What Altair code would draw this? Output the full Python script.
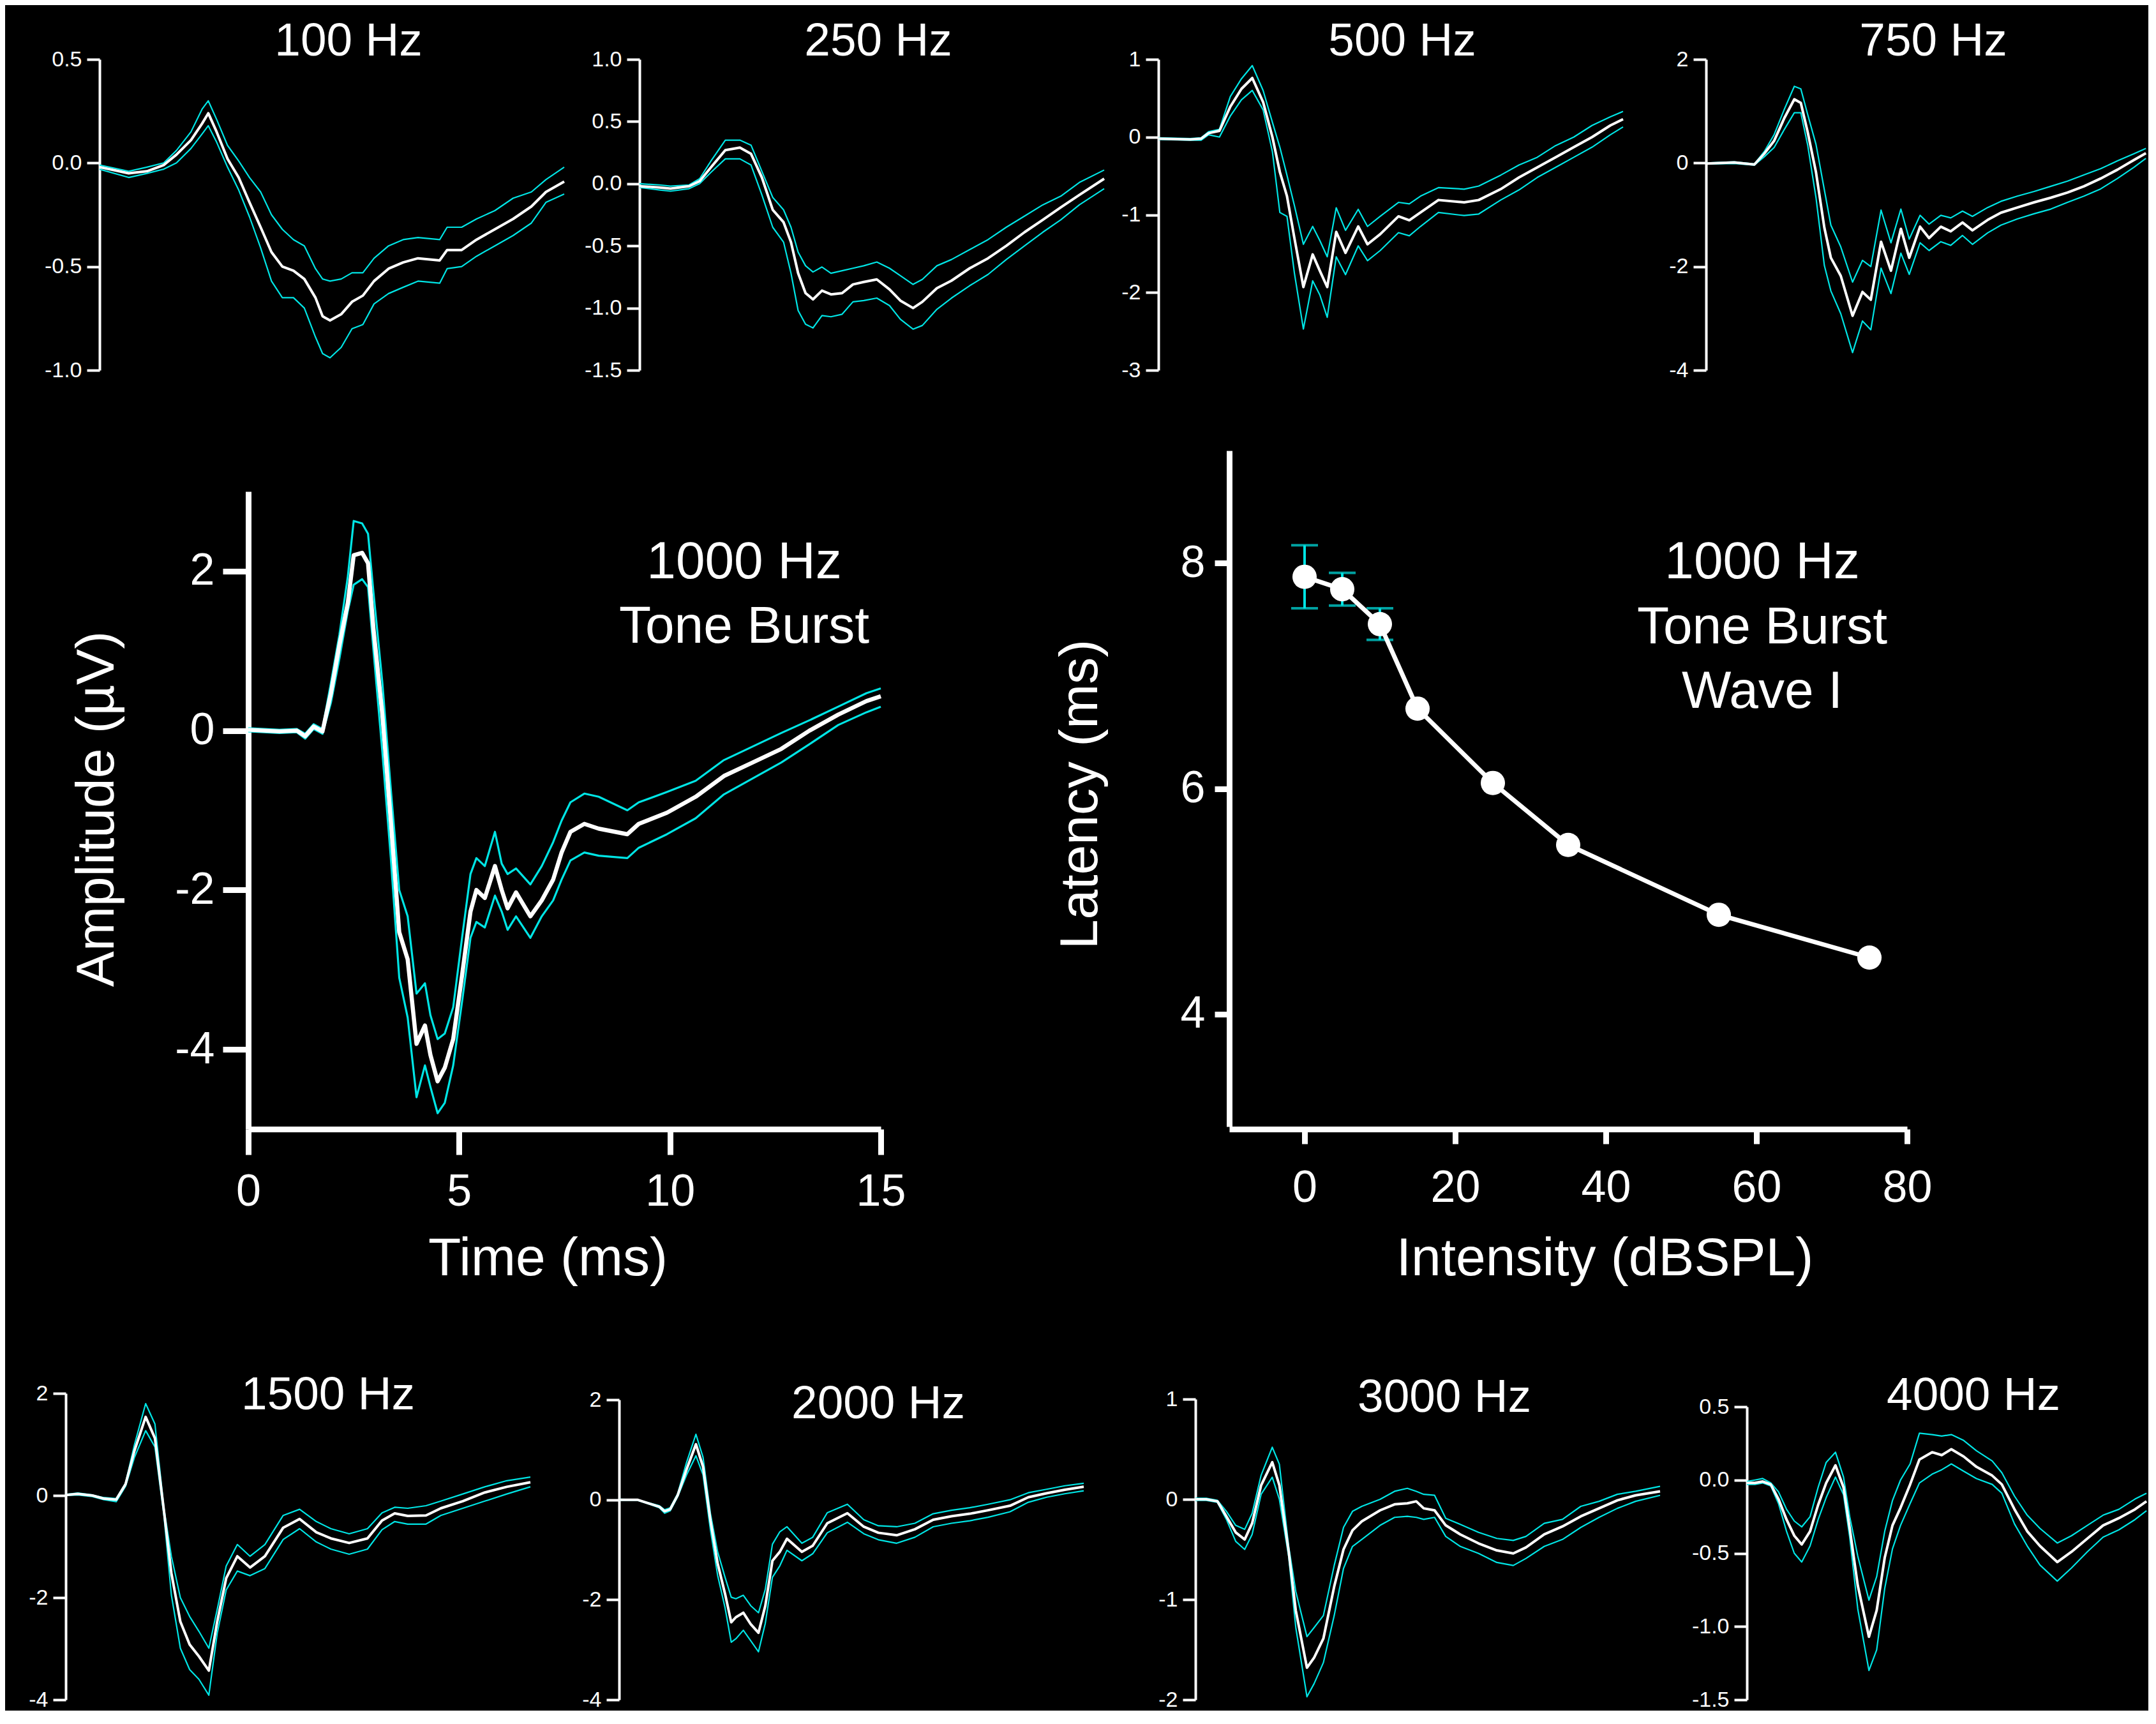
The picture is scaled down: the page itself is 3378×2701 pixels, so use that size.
import altair as alt
import pandas as pd

FONT = "Liberation Sans"
WHITE = "#ffffff"
CYAN = "#00e5e5"
MINUS_FIX = "replace(format(datum.value, '{fmt}'), '\u2212', '-')"

# ---------------- data: ABR traces (mean, upper and lower bound) ----------------
t100 = [0, 0.94, 1.53, 2.07, 2.48, 2.95, 3.31, 3.51, 3.78, 4.13, 4.49, 4.84, 5.2, 5.55, 5.9, 6.26, 6.61, 6.97, 7.2, 7.44, 7.8, 8.15, 8.5, 8.86, 9.33, 9.8, 10.28, 10.98, 11.22, 11.69, 12.17, 12.76, 13.35, 13.94, 14.41, 15]
m100 = [-0.02, -0.05, -0.04, -0.01, 0.04, 0.11, 0.19, 0.24, 0.15, 0.02, -0.07, -0.19, -0.31, -0.43, -0.50, -0.52, -0.56, -0.65, -0.74, -0.76, -0.73, -0.67, -0.64, -0.57, -0.51, -0.48, -0.46, -0.47, -0.42, -0.42, -0.37, -0.32, -0.27, -0.21, -0.14, -0.09]
u100 = [-0.01, -0.04, -0.02, 0.0, 0.06, 0.15, 0.26, 0.30, 0.21, 0.085, 0.01, -0.07, -0.14, -0.25, -0.32, -0.37, -0.40, -0.51, -0.56, -0.57, -0.56, -0.53, -0.53, -0.46, -0.40, -0.37, -0.36, -0.37, -0.31, -0.31, -0.27, -0.23, -0.17, -0.14, -0.08, -0.02]
l100 = [-0.03, -0.07, -0.05, -0.03, 0.0, 0.07, 0.14, 0.18, 0.10, -0.02, -0.13, -0.26, -0.41, -0.57, -0.65, -0.65, -0.70, -0.84, -0.92, -0.94, -0.89, -0.80, -0.78, -0.68, -0.63, -0.60, -0.57, -0.58, -0.51, -0.50, -0.45, -0.40, -0.35, -0.29, -0.19, -0.15]

t250 = [0, 0.65, 1.0, 1.6, 1.94, 2.3, 2.77, 3.24, 3.6, 3.95, 4.3, 4.65, 4.89, 5.12, 5.36, 5.6, 5.89, 6.18, 6.54, 6.89, 7.24, 7.66, 8.07, 8.42, 8.83, 9.13, 9.6, 10.07, 10.66, 11.25, 11.84, 12.43, 13.02, 13.6, 14.2, 15]
m250 = [-0.02, -0.03, -0.04, -0.02, 0.02, 0.13, 0.27, 0.29, 0.24, 0.05, -0.21, -0.31, -0.47, -0.72, -0.88, -0.93, -0.86, -0.89, -0.88, -0.81, -0.79, -0.77, -0.85, -0.94, -1.00, -0.95, -0.84, -0.78, -0.68, -0.60, -0.50, -0.39, -0.29, -0.19, -0.09, 0.04]
u250 = [0.0, -0.01, -0.02, -0.01, 0.04, 0.18, 0.35, 0.35, 0.31, 0.10, -0.11, -0.21, -0.35, -0.55, -0.66, -0.71, -0.67, -0.72, -0.70, -0.68, -0.66, -0.63, -0.68, -0.74, -0.81, -0.77, -0.66, -0.61, -0.53, -0.45, -0.35, -0.26, -0.17, -0.10, 0.01, 0.11]
l250 = [-0.03, -0.05, -0.06, -0.04, 0.0, 0.09, 0.20, 0.20, 0.15, -0.09, -0.35, -0.47, -0.72, -1.02, -1.13, -1.16, -1.06, -1.07, -1.05, -0.95, -0.94, -0.92, -0.98, -1.09, -1.17, -1.14, -1.01, -0.92, -0.82, -0.73, -0.61, -0.50, -0.39, -0.29, -0.17, -0.04]

t500 = [0, 1.03, 1.38, 1.62, 1.97, 2.32, 2.68, 3.03, 3.38, 3.68, 3.92, 4.15, 4.39, 4.68, 4.98, 5.21, 5.45, 5.74, 6.04, 6.45, 6.75, 7.16, 7.75, 8.1, 8.46, 9.04, 9.87, 10.34, 11.05, 11.64, 12.23, 12.82, 13.41, 14.0, 14.59, 15]
m500 = [-0.02, -0.03, -0.02, 0.05, 0.08, 0.39, 0.62, 0.76, 0.45, 0.0, -0.45, -0.76, -1.30, -1.93, -1.51, -1.72, -1.93, -1.22, -1.49, -1.15, -1.38, -1.25, -1.02, -1.07, -0.97, -0.81, -0.84, -0.81, -0.67, -0.52, -0.39, -0.26, -0.13, 0.0, 0.15, 0.23]
u500 = [-0.01, -0.02, -0.01, 0.07, 0.10, 0.52, 0.75, 0.92, 0.60, 0.19, -0.13, -0.49, -0.88, -1.38, -1.15, -1.33, -1.54, -0.91, -1.20, -0.93, -1.15, -1.02, -0.84, -0.86, -0.76, -0.65, -0.67, -0.63, -0.49, -0.36, -0.26, -0.11, 0.0, 0.15, 0.26, 0.33]
l500 = [-0.03, -0.04, -0.04, 0.03, 0.0, 0.27, 0.48, 0.60, 0.35, -0.19, -0.97, -1.02, -1.75, -2.47, -1.85, -2.03, -2.32, -1.54, -1.77, -1.40, -1.59, -1.46, -1.23, -1.27, -1.15, -0.97, -1.01, -0.99, -0.81, -0.68, -0.52, -0.39, -0.26, -0.13, 0.03, 0.13]

t750 = [0, 0.91, 1.56, 1.88, 2.2, 2.53, 2.85, 3.06, 3.28, 3.55, 3.82, 4.03, 4.35, 4.73, 5.05, 5.32, 5.65, 5.97, 6.29, 6.56, 6.91, 7.2, 7.58, 7.9, 8.28, 8.6, 9.09, 9.52, 10.05, 10.59, 11.13, 11.67, 12.2, 12.74, 13.28, 13.82, 14.2]
m750 = [-0.01, 0.01, -0.03, 0.18, 0.43, 0.87, 1.23, 1.16, 0.60, -0.18, -1.25, -1.83, -2.18, -2.95, -2.49, -2.64, -1.52, -2.08, -1.27, -1.83, -1.23, -1.45, -1.23, -1.32, -1.15, -1.30, -1.10, -0.96, -0.86, -0.76, -0.67, -0.57, -0.45, -0.30, -0.13, 0.06, 0.19]
u750 = [0.0, 0.02, -0.02, 0.22, 0.55, 1.04, 1.48, 1.43, 0.94, 0.36, -0.52, -1.20, -1.62, -2.30, -1.88, -2.0, -0.91, -1.54, -0.89, -1.47, -1.01, -1.18, -1.01, -1.06, -0.93, -1.03, -0.86, -0.74, -0.64, -0.55, -0.45, -0.35, -0.23, -0.11, 0.04, 0.18, 0.28]
l750 = [-0.02, -0.01, -0.04, 0.12, 0.30, 0.65, 0.97, 0.97, 0.35, -0.67, -1.98, -2.47, -2.91, -3.66, -3.05, -3.22, -2.03, -2.52, -1.74, -2.15, -1.54, -1.69, -1.52, -1.59, -1.40, -1.57, -1.35, -1.20, -1.08, -0.98, -0.89, -0.76, -0.64, -0.50, -0.30, -0.08, 0.09]

t1000 = [0, 0.74, 1.15, 1.35, 1.55, 1.76, 1.96, 2.16, 2.36, 2.5, 2.7, 2.84, 2.97, 3.18, 3.38, 3.58, 3.78, 3.99, 4.19, 4.32, 4.49, 4.66, 4.86, 5.07, 5.27, 5.41, 5.61, 5.85, 6.01, 6.15, 6.35, 6.69, 6.96, 7.23, 7.43, 7.64, 7.97, 8.31, 8.99, 9.26, 9.93, 10.61, 11.28, 11.96, 12.64, 13.31, 13.99, 14.66, 15]
m1000 = [0.01, -0.01, 0.0, -0.07, 0.05, -0.01, 0.47, 1.07, 1.60, 2.20, 2.23, 2.10, 1.27, 0.20, -1.13, -2.53, -2.87, -3.93, -3.70, -4.07, -4.40, -4.23, -3.87, -3.07, -2.27, -2.00, -2.10, -1.70, -2.00, -2.23, -2.03, -2.33, -2.13, -1.87, -1.53, -1.27, -1.17, -1.23, -1.30, -1.17, -1.03, -0.83, -0.57, -0.40, -0.23, 0.0, 0.20, 0.37, 0.43]
u1000 = [0.03, 0.01, 0.02, -0.04, 0.08, 0.02, 0.60, 1.20, 1.93, 2.63, 2.60, 2.47, 1.73, 0.60, -0.73, -2.00, -2.33, -3.30, -3.17, -3.57, -3.87, -3.80, -3.47, -2.60, -1.80, -1.60, -1.70, -1.27, -1.67, -1.80, -1.73, -1.93, -1.70, -1.40, -1.13, -0.90, -0.79, -0.83, -1.00, -0.90, -0.77, -0.63, -0.37, -0.20, -0.03, 0.13, 0.30, 0.47, 0.53]
l1000 = [-0.01, -0.03, -0.02, -0.10, 0.02, -0.04, 0.35, 0.90, 1.50, 1.83, 1.90, 1.80, 1.00, -0.27, -1.60, -3.10, -3.60, -4.60, -4.20, -4.47, -4.80, -4.67, -4.20, -3.40, -2.60, -2.40, -2.47, -2.07, -2.27, -2.50, -2.33, -2.60, -2.33, -2.13, -1.87, -1.63, -1.53, -1.57, -1.60, -1.47, -1.30, -1.10, -0.80, -0.60, -0.40, -0.17, 0.07, 0.23, 0.30]

t1500 = [0, 0.39, 0.86, 1.22, 1.63, 1.93, 2.22, 2.58, 2.88, 3.17, 3.41, 3.7, 4.0, 4.3, 4.62, 4.89, 5.18, 5.54, 5.95, 6.43, 7.02, 7.55, 8.09, 8.56, 9.15, 9.74, 10.21, 10.62, 11.04, 11.63, 12.11, 12.82, 13.53, 14.24, 15]
m1500 = [0.01, 0.03, 0.0, -0.06, -0.08, 0.22, 0.88, 1.54, 1.12, -0.30, -1.52, -2.47, -2.92, -3.15, -3.43, -2.47, -1.62, -1.19, -1.41, -1.19, -0.63, -0.46, -0.72, -0.84, -0.93, -0.84, -0.49, -0.35, -0.40, -0.39, -0.25, -0.11, 0.06, 0.17, 0.26]
u1500 = [0.02, 0.05, 0.01, -0.04, -0.06, 0.24, 1.0, 1.80, 1.40, -0.25, -1.19, -2.0, -2.37, -2.66, -2.99, -2.23, -1.38, -0.96, -1.19, -0.96, -0.39, -0.27, -0.51, -0.65, -0.75, -0.65, -0.34, -0.23, -0.25, -0.20, -0.11, 0.03, 0.17, 0.29, 0.36]
l1500 = [0.0, 0.01, -0.02, -0.08, -0.12, 0.18, 0.75, 1.27, 0.95, -0.39, -1.95, -2.99, -3.41, -3.60, -3.91, -2.70, -1.85, -1.48, -1.57, -1.43, -0.86, -0.65, -0.91, -1.05, -1.15, -1.05, -0.67, -0.51, -0.56, -0.56, -0.39, -0.25, -0.11, 0.03, 0.17]

t2000 = [0, 0.59, 0.94, 1.3, 1.47, 1.65, 1.89, 2.18, 2.48, 2.71, 2.95, 3.18, 3.42, 3.62, 3.77, 4.01, 4.25, 4.5, 4.72, 4.95, 5.19, 5.42, 5.9, 6.25, 6.72, 7.37, 7.9, 8.37, 8.96, 9.55, 10.14, 10.73, 11.32, 11.91, 12.62, 13.21, 13.8, 14.39, 15]
m2000 = [0.0, 0.0, -0.07, -0.14, -0.23, -0.19, 0.09, 0.61, 1.11, 0.66, -0.42, -1.27, -1.88, -2.45, -2.35, -2.26, -2.49, -2.66, -2.12, -1.22, -1.04, -0.78, -1.04, -0.92, -0.47, -0.27, -0.54, -0.66, -0.71, -0.59, -0.40, -0.33, -0.28, -0.21, -0.12, 0.05, 0.13, 0.20, 0.26]
u2000 = [0.01, 0.0, -0.06, -0.12, -0.20, -0.16, 0.12, 0.75, 1.31, 0.85, -0.28, -1.04, -1.55, -1.95, -1.98, -1.91, -2.12, -2.26, -1.79, -0.89, -0.64, -0.54, -0.87, -0.75, -0.26, -0.09, -0.40, -0.52, -0.54, -0.47, -0.28, -0.21, -0.16, -0.09, 0.0, 0.14, 0.21, 0.28, 0.33]
l2000 = [-0.01, -0.01, -0.08, -0.16, -0.27, -0.22, 0.06, 0.50, 0.88, 0.50, -0.61, -1.51, -2.16, -2.85, -2.78, -2.61, -2.82, -3.04, -2.47, -1.55, -1.32, -1.01, -1.22, -1.08, -0.66, -0.45, -0.68, -0.80, -0.87, -0.75, -0.54, -0.47, -0.42, -0.35, -0.24, -0.05, 0.05, 0.12, 0.18]

t3000 = [0, 0.35, 0.71, 1.0, 1.3, 1.59, 1.83, 2.12, 2.48, 2.71, 3.01, 3.24, 3.6, 3.83, 4.13, 4.48, 4.78, 5.07, 5.37, 5.96, 6.43, 6.84, 7.13, 7.37, 7.72, 8.08, 8.55, 9.14, 9.73, 10.26, 10.67, 11.26, 11.85, 12.44, 13.03, 13.62, 14.21, 15]
m3000 = [0.0, 0.0, -0.02, -0.17, -0.33, -0.40, -0.24, 0.14, 0.37, 0.14, -0.52, -1.11, -1.68, -1.58, -1.39, -0.87, -0.50, -0.31, -0.22, -0.11, -0.05, -0.04, -0.02, -0.09, -0.11, -0.26, -0.35, -0.44, -0.51, -0.54, -0.48, -0.35, -0.27, -0.17, -0.09, -0.01, 0.04, 0.08]
u3000 = [0.01, 0.01, -0.01, -0.12, -0.26, -0.30, -0.14, 0.24, 0.52, 0.35, -0.47, -0.92, -1.37, -1.28, -1.16, -0.66, -0.28, -0.12, -0.07, 0.0, 0.08, 0.11, 0.08, 0.05, 0.04, -0.19, -0.25, -0.33, -0.39, -0.41, -0.37, -0.24, -0.20, -0.07, -0.02, 0.05, 0.08, 0.13]
l3000 = [-0.01, -0.01, -0.03, -0.20, -0.42, -0.50, -0.35, 0.05, 0.22, 0.0, -0.57, -1.28, -1.97, -1.84, -1.63, -1.16, -0.69, -0.47, -0.40, -0.26, -0.18, -0.17, -0.18, -0.20, -0.18, -0.37, -0.47, -0.54, -0.63, -0.66, -0.59, -0.47, -0.40, -0.28, -0.18, -0.09, -0.02, 0.04]

t4000 = [0, 0.26, 0.51, 0.77, 1.02, 1.28, 1.53, 1.77, 2.04, 2.3, 2.56, 2.86, 3.12, 3.32, 3.58, 3.94, 4.19, 4.45, 4.7, 4.96, 5.27, 5.57, 5.98, 6.29, 6.6, 7.0, 7.41, 7.92, 8.23, 8.64, 9.05, 9.46, 10.02, 10.48, 10.99, 11.5, 12.01, 12.53, 12.9]
m4000 = [-0.02, -0.02, -0.01, -0.03, -0.13, -0.27, -0.38, -0.44, -0.35, -0.17, -0.02, 0.10, -0.05, -0.33, -0.72, -1.07, -0.89, -0.53, -0.31, -0.19, -0.03, 0.14, 0.19, 0.17, 0.21, 0.16, 0.09, 0.03, -0.03, -0.20, -0.35, -0.45, -0.56, -0.49, -0.40, -0.31, -0.26, -0.20, -0.145]
u4000 = [-0.01, 0.0, 0.01, -0.02, -0.08, -0.20, -0.28, -0.32, -0.25, -0.05, 0.12, 0.19, 0.02, -0.25, -0.52, -0.82, -0.66, -0.35, -0.14, 0.0, 0.11, 0.32, 0.31, 0.30, 0.31, 0.27, 0.20, 0.13, 0.05, -0.11, -0.24, -0.33, -0.43, -0.38, -0.31, -0.24, -0.20, -0.13, -0.09]
l4000 = [-0.03, -0.03, -0.02, -0.04, -0.16, -0.35, -0.50, -0.56, -0.45, -0.27, -0.12, 0.02, -0.10, -0.39, -0.88, -1.30, -1.16, -0.74, -0.47, -0.31, -0.16, -0.02, 0.04, 0.07, 0.11, 0.06, 0.01, -0.03, -0.09, -0.30, -0.45, -0.58, -0.69, -0.60, -0.49, -0.39, -0.34, -0.27, -0.21]

# ---------------- data: wave I latency vs intensity ----------------
intensity = [0, 5, 10, 15, 25, 35, 55, 75]
latency = [7.88, 7.77, 7.46, 6.71, 6.05, 5.50, 4.88, 4.50]
latency_sem = [0.28, 0.145, 0.14, 0, 0, 0, 0, 0]

TITLE_SHIFT = 85  # vertical correction for how the renderer places top titles


def trace_frame(t, mean, upper, lower):
    rows = []
    for name, vals in (("upper", upper), ("lower", lower), ("mean", mean)):
        for ti, v in zip(t, vals):
            rows.append({"t": ti, "v": v, "s": name})
    return pd.DataFrame(rows)


def title_params(text, dx, dy, size, line_height=None):
    kw = dict(text=text, anchor="start", align="center", dx=dx, dy=dy + TITLE_SHIFT, offset=0,
              frame="group", baseline="alphabetic", fontSize=size, font=FONT,
              color=WHITE, fontWeight="normal")
    if line_height is not None:
        kw["lineHeight"] = line_height
    return alt.TitleParams(**kw)


def small_panel(t, mean, upper, lower, title, ydom, yvals, fmt, yrange, width, height, dx, dy):
    df = trace_frame(t, mean, upper, lower)
    x = alt.X("t:Q", axis=None,
              scale=alt.Scale(domain=[0, 15], range=[0, 728], nice=False, zero=False))
    y = alt.Y("v:Q", title=None,
              scale=alt.Scale(domain=ydom, range=yrange, nice=False, zero=False),
              axis=alt.Axis(values=yvals, labelExpr=MINUS_FIX.format(fmt=fmt), tickSize=20,
                            tickWidth=4, domainWidth=4, labelFontSize=34, labelPadding=8))
    base = alt.Chart(df)
    bands = base.transform_filter("datum.s != 'mean'").mark_line(
        color=CYAN, strokeWidth=2.2, strokeJoin="round").encode(x=x, y=y, detail="s:N")
    avg = base.transform_filter("datum.s == 'mean'").mark_line(
        color=WHITE, strokeWidth=4, strokeJoin="round").encode(x=x, y=y)
    return alt.layer(bands, avg).properties(
        width=width, height=height, title=title_params(title, dx, dy, 73))


def spacer(w, h):
    return alt.Chart(pd.DataFrame({"a": [0]})).mark_text(text="").properties(width=w, height=h)


# grid columns start at every panel's y-axis position
COLS = [53, 233, 581, 32, 813, 58, 53, 747, 64, 620]
TOP_H = 487 + 126      # top row plot height plus the gap below it
MID_H = 1063
G = 414                # gap above the bottom row is part of its panels
BOT_H = 480 + G

# ---------------- top row ----------------
p100 = small_panel(t100, m100, u100, l100, "100 Hz", [-1.0, 0.5], [-1.0, -0.5, 0.0, 0.5], ".1f",
                   [487, 0], COLS[1], TOP_H, 390, -1)
p250 = small_panel(t250, m250, u250, l250, "250 Hz", [-1.5, 1.0], [-1.5, -1.0, -0.5, 0.0, 0.5, 1.0], ".1f",
                   [487, 0], COLS[4], TOP_H, 374, -1)
p500 = small_panel(t500, m500, u500, l500, "500 Hz", [-3, 1], [-3, -2, -1, 0, 1], "d",
                   [487, 0], COLS[5], TOP_H, 382, -1)
p750 = small_panel(t750, m750, u750, l750, "750 Hz", [-4, 2], [-4, -2, 0, 2], "d",
                   [487, 0], COLS[8], TOP_H, 356, -1)

# ---------------- middle row: 1000 Hz trace ----------------
main_df = trace_frame(t1000, m1000, u1000, l1000)
xm = alt.X("t:Q",
           scale=alt.Scale(domain=[0, 15], range=[0, 991], nice=False, zero=False),
           axis=alt.Axis(values=[0, 5, 10, 15], format="d", tickSize=40, tickWidth=9, domainWidth=9,
                         labelFontSize=70, labelPadding=24, labelFlush=False,
                         title="Time (ms)", titleFontSize=84, titleX=469, titleY=228,
                         titleAlign="center", titleBaseline="alphabetic"))
ym = alt.Y("v:Q",
           scale=alt.Scale(domain=[-5, 3], range=[1063, 64], nice=False, zero=False),
           axis=alt.Axis(values=[-4, -2, 0, 2], labelExpr=MINUS_FIX.format(fmt="d"), tickSize=40,
                         tickWidth=9, domainWidth=9, labelFontSize=70, labelPadding=13,
                         title="Amplitude (µV)", titleFontSize=84, titleX=-212, titleY=561,
                         titleAngle=270, titleAlign="center", titleBaseline="alphabetic"))
mbase = alt.Chart(main_df)
m_bands = mbase.transform_filter("datum.s != 'mean'").mark_line(
    color=CYAN, strokeWidth=3.2, strokeJoin="round").encode(x=xm, y=ym, detail="s:N")
m_mean = mbase.transform_filter("datum.s == 'mean'").mark_line(
    color=WHITE, strokeWidth=6.5, strokeJoin="round").encode(x=xm, y=ym)
# multi-line titles are anchored on their last line
main_chart = alt.layer(m_bands, m_mean).properties(
    width=COLS[2], height=MID_H,
    title=title_params(["1000 Hz", "Tone Burst"], 777, 298, 82, 101))

# ---------------- middle row: latency vs intensity ----------------
lat_df = pd.DataFrame({"i": intensity, "lat": latency, "sem": latency_sem})
xs = alt.Scale(domain=[-10, 80], range=[0, 1062], nice=False, zero=False)
ys = alt.Scale(domain=[3, 9], range=[1059, 0], nice=False, zero=False)
x_axis = alt.Axis(values=[0, 20, 40, 60, 80], format="d", tickSize=23, tickWidth=9, domainWidth=9,
                  labelFontSize=70, labelPadding=35, labelFlush=False,
                  title="Intensity (dBSPL)", titleFontSize=84, titleX=588, titleY=228,
                  titleAlign="center", titleBaseline="alphabetic")
y_axis = alt.Axis(values=[4, 6, 8], format="d", tickSize=23, tickWidth=9, domainWidth=9,
                  labelFontSize=70, labelPadding=15,
                  title="Latency (ms)", titleFontSize=84, titleX=-208, titleY=538,
                  titleAngle=270, titleAlign="center", titleBaseline="alphabetic")


def xl():
    return alt.X("i:Q", scale=xs, axis=x_axis)


def yl(field):
    return alt.Y(field + ":Q", scale=ys, axis=y_axis)


err_src = alt.Chart(lat_df).transform_filter("datum.sem > 0").transform_calculate(
    lo="datum.lat - datum.sem", hi="datum.lat + datum.sem")
e_rule = err_src.mark_rule(color=CYAN, strokeWidth=4).encode(x=xl(), y=yl("lo"), y2="hi:Q")
e_hi = err_src.mark_tick(color=CYAN, thickness=4, size=42, orient="horizontal").encode(x=xl(), y=yl("hi"))
e_lo = err_src.mark_tick(color=CYAN, thickness=4, size=42, orient="horizontal").encode(x=xl(), y=yl("lo"))
l_line = alt.Chart(lat_df).mark_line(color=WHITE, strokeWidth=7).encode(x=xl(), y=yl("lat"))
l_dots = alt.Chart(lat_df).mark_circle(color=WHITE, opacity=1, size=1450).encode(x=xl(), y=yl("lat"))
lat_chart = alt.layer(e_rule, e_hi, e_lo, l_line, l_dots).properties(
    width=COLS[7], height=MID_H,
    title=title_params(["1000 Hz", "Tone Burst", "Wave I"], 835, 400, 82, 101.5))

# ---------------- bottom row ----------------
p1500 = small_panel(t1500, m1500, u1500, l1500, "1500 Hz", [-4, 2], [-4, -2, 0, 2], "d",
                    [480 + G, G], COLS[0], BOT_H, 411, 13 + G)
p2000 = small_panel(t2000, m2000, u2000, l2000, "2000 Hz", [-4, 2], [-4, -2, 0, 2], "d",
                    [480 + G, 10 + G], COLS[3], BOT_H, 406, 27 + G)
p3000 = small_panel(t3000, m3000, u3000, l3000, "3000 Hz", [-2, 1], [-2, -1, 0, 1], "d",
                    [480 + G, 9 + G], COLS[6], BOT_H, 390, 17 + G)
p4000 = small_panel(t4000, m4000, u4000, l4000, "4000 Hz", [-1.5, 0.5], [-1.5, -1.0, -0.5, 0.0, 0.5], ".1f",
                    [480 + G, 21 + G], COLS[9], BOT_H, 355, 14 + G)

top_cells = {1: p100, 4: p250, 5: p500, 8: p750}
mid_cells = {2: main_chart, 7: lat_chart}
bot_cells = {0: p1500, 3: p2000, 6: p3000, 9: p4000}

cells = []
for row_cells, h in ((top_cells, TOP_H), (mid_cells, MID_H), (bot_cells, BOT_H)):
    for c, w in enumerate(COLS):
        cells.append(row_cells.get(c, spacer(w, h)))

chart = alt.concat(
    *cells, columns=len(COLS), spacing=0, bounds="flush", align="each",
).properties(
    padding={"left": 36, "top": 21, "right": 0, "bottom": 0},
    background="black",
).configure_view(stroke=None).configure_axis(
    grid=False, domainColor=WHITE, tickColor=WHITE, labelColor=WHITE, titleColor=WHITE,
    labelFont=FONT, titleFont=FONT, titleFontWeight="normal",
).configure_title(font=FONT, color=WHITE, fontWeight="normal")

chart.save("out.html", embed_options={"renderer": "svg", "actions": False})
